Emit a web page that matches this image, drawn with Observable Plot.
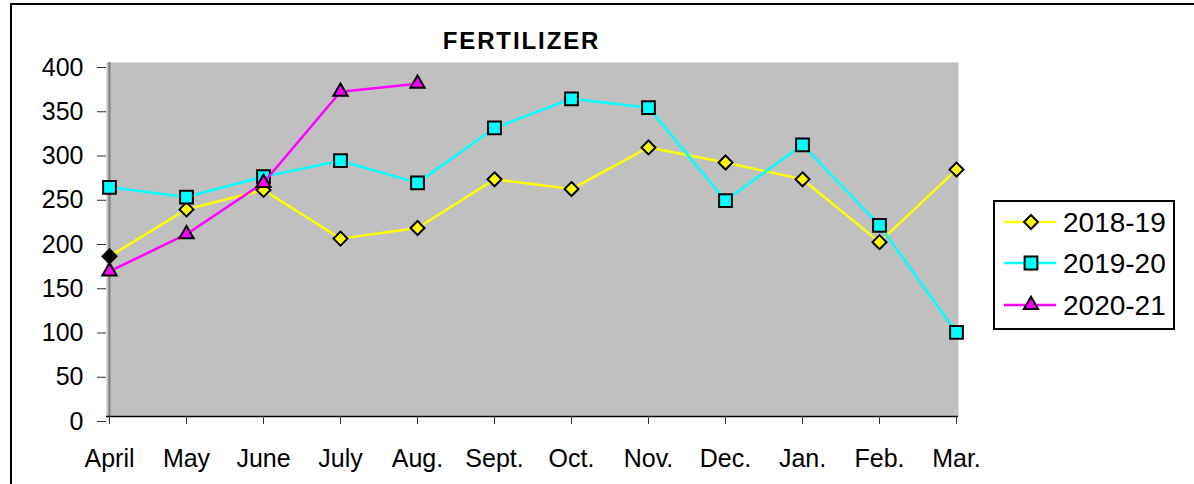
<!DOCTYPE html>
<html>
<head>
<meta charset="utf-8">
<script src="https://cdn.jsdelivr.net/npm/d3@7"></script>
<script src="https://cdn.jsdelivr.net/npm/@observablehq/plot@0.6"></script>
<style>
  body { margin: 0; background: #fff; }
  #wrap { position: relative; width: 1194px; height: 484px; overflow: hidden; font-family: "Liberation Sans", Arial, sans-serif; background: #fff; }
  #chart { position: absolute; left: 0; top: 0; }
  #border { position: absolute; left: 10px; top: 3px; width: 1400px; height: 700px; border-left: 2px solid #000; border-top: 2px solid #000; pointer-events: none; }
  #title { position: absolute; left: 0; width: 1043px; top: 27px; text-align: center; font-weight: bold; font-size: 24px; letter-spacing: 1.9px; color: #000; line-height: 28px; }
  #legend { position: absolute; left: 993px; top: 200px; }
</style>
</head>
<body>
<div id="wrap">
  <div id="chart"></div>
  <div id="border"></div>
  <div id="title">FERTILIZER</div>
  <div id="legend"></div>
</div>
<script>
// ---- data ----
const months = ["April", "May", "June", "July", "Aug.", "Sept.", "Oct.", "Nov.", "Dec.", "Jan.", "Feb.", "Mar."];
const seriesNames = ["2018-19", "2019-20", "2020-21"];
const values2018 = [181, 234, 256, 201, 213, 268, 257, 304, 287, 268, 197, 279];
const values2019 = [259, 248, 271, 289, 264, 326, 359, 349, 244, 307, 216, 95];
const values2020 = [164, 206, 264, 367, 376];
const yTicks = [0, 50, 100, 150, 200, 250, 300, 350, 400];
const seriesColors = ["#ffff00", "#00ffff", "#ff00ff"];
const seriesSymbols = ["diamond2", "square", "triangle"];
const seriesR = [6.3, 7.2, 5.3];
const blackPoint = { series: "2018-19", month: "April" };

// ---- table ----
const allValues = [values2018, values2019, values2020];
const rows = [];
seriesNames.forEach((s, i) => {
  allValues[i].forEach((v, j) => rows.push({ series: s, month: months[j], value: v }));
});

const marks = [
  Plot.frame({ fill: "#c0c0c0", stroke: null }),
  Plot.ruleX([months[0]], { stroke: "#808080", strokeWidth: 2 }),
  Plot.ruleY([0], { stroke: "#000", strokeWidth: 1.5 }),
  Plot.axisY({ ticks: yTicks, tickSize: 9, tickPadding: 14, fontSize: 25, dy: 5, stroke: "#333", label: null, tickFormat: d => String(d) }),
  Plot.axisX({ tickSize: 8, tickPadding: 25, fontSize: 25, stroke: "#333", label: null, tickFormat: d => d })
];
seriesNames.forEach((s, i) => {
  const data = rows.filter(d => d.series === s);
  marks.push(Plot.line(data, { x: "month", y: "value", stroke: seriesColors[i], strokeWidth: 2.5 }));
  marks.push(Plot.dot(data, {
    x: "month", y: "value", symbol: () => seriesSymbols[i], r: seriesR[i],
    fill: d => (d.series === blackPoint.series && d.month === blackPoint.month) ? "#000" : seriesColors[i],
    stroke: "#000", strokeWidth: 2
  }));
});

const chart = Plot.plot({
  width: 1194,
  height: 484,
  marginLeft: 106,
  marginRight: 236,
  marginTop: 62,
  marginBottom: 68,
  style: { fontFamily: "'Liberation Sans', Arial, sans-serif", background: "transparent", color: "#000" },
  x: { type: "point", domain: months, padding: 0, axis: null, label: null },
  y: { domain: [0, 400], axis: null, label: null },
  symbol: { type: "identity" },
  marks
});
document.getElementById("chart").appendChild(chart);

// ---- legend ----
const lw = 182, lh = 130;
const leg = d3.select("#legend").append("svg").attr("width", lw).attr("height", lh)
  .style("font-family", "'Liberation Sans', Arial, sans-serif");
leg.append("rect").attr("x", 1).attr("y", 1).attr("width", lw - 2).attr("height", lh - 2)
  .attr("fill", "#fff").attr("stroke", "#000").attr("stroke-width", 2);
const rowY = [22, 63, 105];
const symMap = { diamond2: d3.symbolDiamond2, square: d3.symbolSquare, triangle: d3.symbolTriangle };
seriesNames.forEach((s, i) => {
  const g = leg.append("g").attr("transform", `translate(0,${rowY[i]})`);
  g.append("line").attr("x1", 11).attr("x2", 63).attr("stroke", seriesColors[i]).attr("stroke-width", 2.5);
  g.append("path").attr("transform", "translate(38,0)")
    .attr("d", d3.symbol(symMap[seriesSymbols[i]], Math.PI * seriesR[i] * seriesR[i])())
    .attr("fill", seriesColors[i]).attr("stroke", "#000").attr("stroke-width", 2);
  g.append("text").attr("x", 70).attr("dy", "0.35em").attr("font-size", 28).text(s);
});
</script>
</body>
</html>
